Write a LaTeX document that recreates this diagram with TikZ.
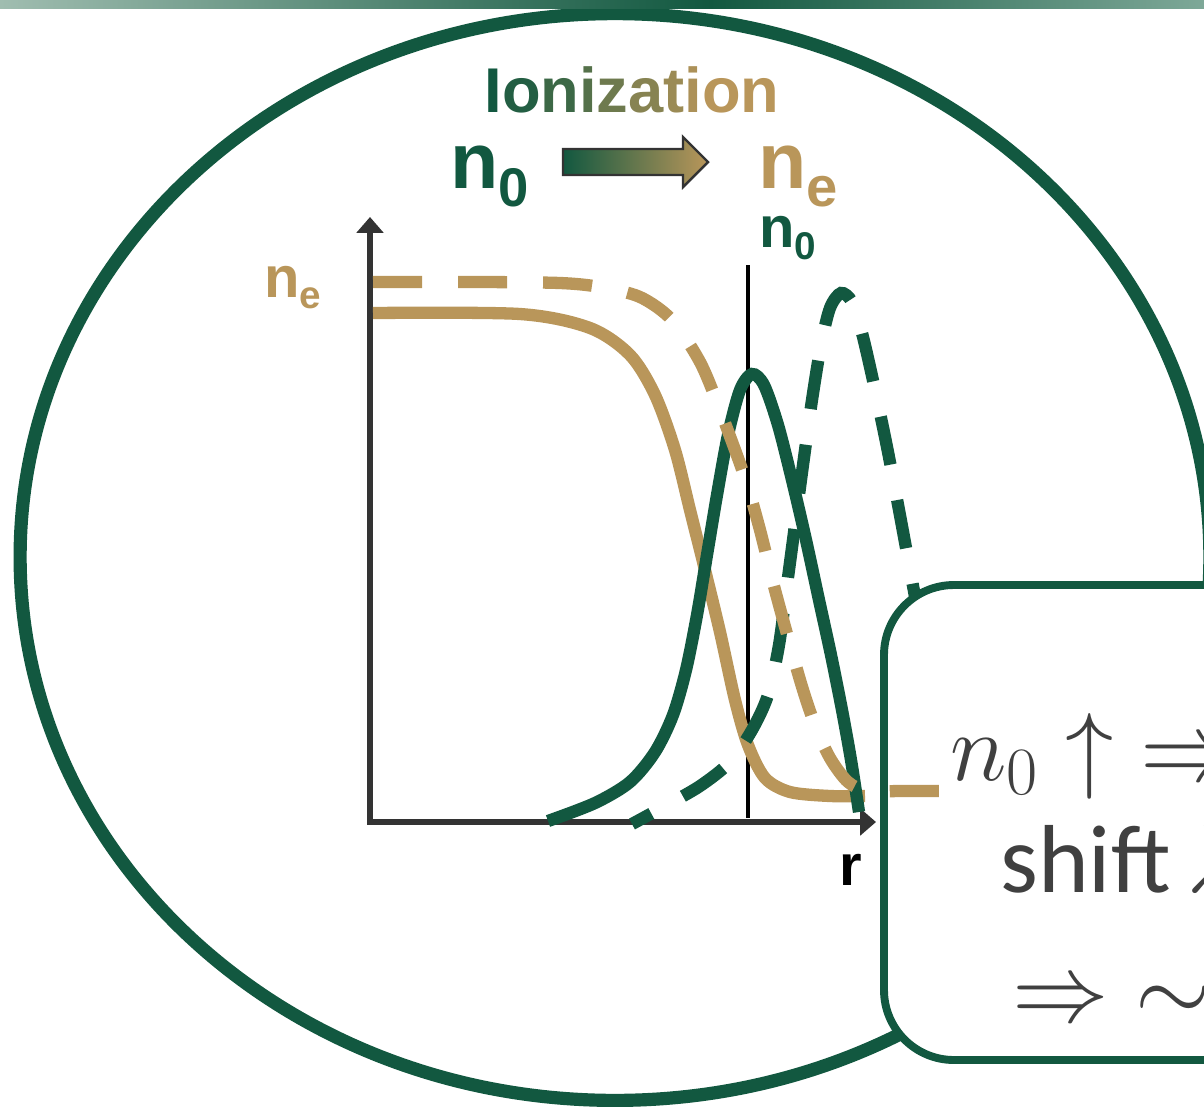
\RequirePackage{fix-cm}
\documentclass[tikz,border=0pt]{standalone}
\usepackage{fontspec}
\newfontfamily\arial{Liberation Sans}
\newfontfamily\calibri{Carlito}
\usetikzlibrary{arrows.meta}

\definecolor{dgreen}{HTML}{125840}
\definecolor{sand}{HTML}{B9965A}
\definecolor{axisgray}{HTML}{333333}
\definecolor{boxtext}{HTML}{404040}
\definecolor{barleft}{HTML}{A0BDB0}
\definecolor{barright}{HTML}{7EA898}

\begin{document}
\begin{tikzpicture}[x=0.02cm, y=-0.02cm,
    curve/.style={line width=7pt},
    dashcurve/.style={line width=7pt, dash pattern=on 27.9pt off 20.5pt},
    axis/.style={draw=axisgray, line width=3pt},
    lbl/.style={inner sep=0pt, anchor=base west}]

  \useasboundingbox (0,0) rectangle (1204,1113);

  % Outer ellipse
  \draw[dgreen, line width=7.5pt] (615,557) ellipse [x radius=11.9cm, y radius=10.87cm];

  % Top bar
  \shade[left color=barleft, right color=dgreen] (0,0) rectangle (712,8);
  \shade[left color=dgreen, right color=barright] (710,0) rectangle (1204,8);

  % Title
  \node[inner sep=0pt, anchor=base, font={\arial\bfseries\fontsize{36}{40}\selectfont}] (title) at (632,112)
    {\textcolor{dgreen}{I}\textcolor{sand!10!dgreen}{o}\textcolor{sand!25!dgreen}{n}\textcolor{sand!40!dgreen}{i}\textcolor{sand!55!dgreen}{z}\textcolor{sand!70!dgreen}{a}\textcolor{sand!82!dgreen}{t}\textcolor{sand!92!dgreen}{i}\textcolor{sand}{on}};

  % n0 -> ne
  \node[lbl, text=dgreen, font=\arial\bfseries] (nzero) at (450,188)
    {\fontsize{45}{50}\selectfont n\raisebox{-10.8pt}{\fontsize{31}{34}\selectfont 0}};
  \shadedraw[left color=dgreen, right color=sand, draw=axisgray, line width=1.4pt]
    (563,149) -- (683,149) -- (683,137) -- (708,162) -- (683,187) -- (683,175) -- (563,175) -- cycle;
  \node[lbl, text=sand, font=\arial\bfseries] (nelec) at (758,188)
    {\fontsize{45}{50}\selectfont n\raisebox{-10.8pt}{\fontsize{32}{34}\selectfont e}};

  % Axes
  \coordinate (O) at (370,822);
  \coordinate (ytip) at (370,217);
  \coordinate (xtip) at (876,822);
  \draw[axis, {Triangle[length=9pt,width=15pt]}-{Triangle[length=9pt,width=15pt]}] (ytip) -- (O) -- (xtip);

  % Axis labels
  \node[lbl, text=sand, font=\arial\bfseries] (nelabel) at (264,297)
    {\fontsize{33}{36}\selectfont n\raisebox{-6.5pt}{\fontsize{22}{24}\selectfont e}};
  \node[lbl, text=dgreen, font=\arial\bfseries] (nzlabel) at (759,247)
    {\fontsize{33}{36}\selectfont n\raisebox{-7pt}{\fontsize{22}{24}\selectfont 0}};
  \node[lbl, text=black, font={\arial\bfseries\fontsize{33}{36}\selectfont}] (rlabel) at (839,885) {r};

  % Marker line
  \coordinate (mtop) at (748,265);
  \coordinate (mbot) at (748,818);
  \draw[black, line width=2.6pt] (mtop) -- (mbot);

  % Electron density, solid
  \draw[curve, sand] plot[smooth] coordinates {(373,313) (520,314) (590,328) (630,355) (655,395) (675,450) (690,510) (705,570) (720,632) (735,700) (748,745) (765,778) (790,792) (830,796) (865,796)};

  % Neutral density, solid
  \draw[curve, dgreen] plot[smooth] coordinates {(548,821) (595,803) (630,782) (655,752) (673,715) (686,670) (697,615) (707,555) (717,495) (728,435) (740,390) (752,374) (764,385) (778,425) (792,480) (806,540) (819,600) (831,655) (842,710) (851,760) (859,812)};

  % Neutral density, dashed
  \draw[dashcurve, dgreen, dash phase=15.4pt] plot[smooth] coordinates {(632,824) (665,806) (700,786) (730,762) (752,730) (768,695) (779,645) (787,585) (795,525) (803,465) (812,400) (821,345) (830,308) (841,293) (852,302) (862,333) (874,385) (887,447) (899,510) (911,575) (923,640) (935,705)};

  % Text box
  \draw[dgreen, line width=4.5pt, fill=white, rounded corners=1.4cm] (884,585) rectangle (1320,1060);

  % Electron density, dashed
  \draw[dashcurve, sand] plot[smooth] coordinates {(373,282) (480,282) (560,283) (600,287) (640,297) (672,320) (700,362) (720,410) (745,478) (760,530) (775,590) (800,680) (815,725) (830,758) (848,782) (868,791) (900,791) (945,791)};

  % Box text
  \node[lbl, text=boxtext, font=\fontsize{55}{60}\selectfont] (line1) at (950,780) {$n_0\uparrow\;\Rightarrow$};
  \node[lbl, text=boxtext, font={\calibri\fontsize{55}{60}\selectfont}] (line2) at (1000,892) {shift\hspace{0.18em}$\lambda$};
  \node[lbl, text=boxtext, font=\fontsize{55}{60}\selectfont] (line3) at (1012,1021) {$\Rightarrow\;\sim\Delta$};

\end{tikzpicture}
\end{document}
